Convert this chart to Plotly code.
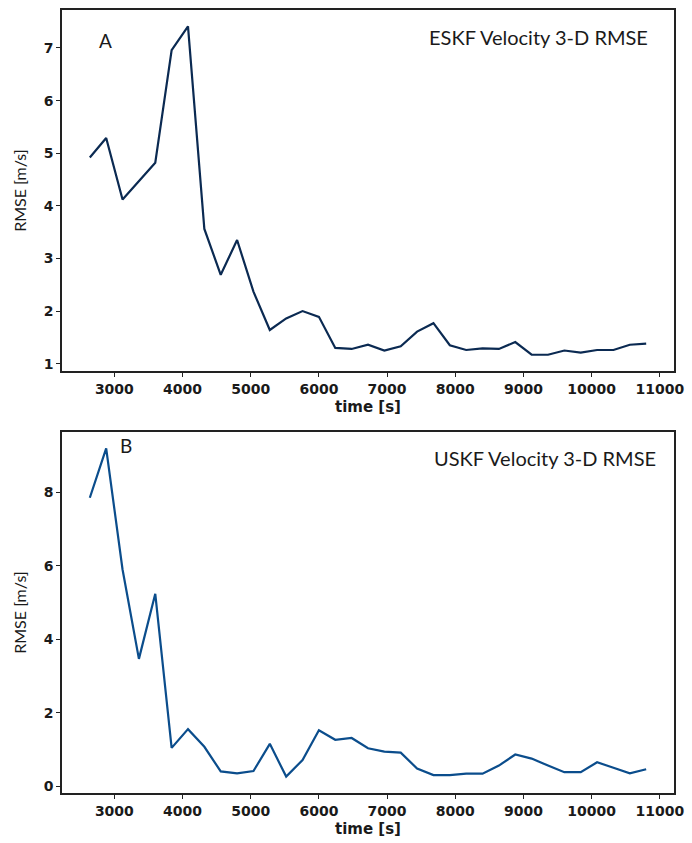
import plotly.graph_objects as go

# Time stamps of the RMSE evaluations [s]
time_s = [2640, 2880, 3120, 3360, 3600, 3840, 4080, 4320, 4560, 4800,
          5040, 5280, 5520, 5760, 6000, 6240, 6480, 6720, 6960, 7200,
          7440, 7680, 7920, 8160, 8400, 8640, 8880, 9120, 9360, 9600,
          9840, 10080, 10320, 10560, 10800]

# ESKF velocity 3-D RMSE [m/s]
eskf_rmse = [4.92, 5.29, 4.12, 4.47, 4.82, 6.96, 7.41, 3.56, 2.69, 3.35,
             2.37, 1.64, 1.86, 2.00, 1.89, 1.30, 1.28, 1.36, 1.25, 1.33,
             1.61, 1.77, 1.35, 1.26, 1.29, 1.28, 1.41, 1.17, 1.17, 1.25,
             1.21, 1.26, 1.26, 1.36, 1.38]

# USKF velocity 3-D RMSE [m/s]
uskf_rmse = [7.85, 9.19, 5.90, 3.47, 5.24, 1.05, 1.56, 1.08, 0.41, 0.36,
             0.42, 1.16, 0.27, 0.72, 1.53, 1.27, 1.32, 1.04, 0.95, 0.92,
             0.49, 0.31, 0.31, 0.35, 0.35, 0.57, 0.87, 0.76, 0.57, 0.39,
             0.39, 0.66, 0.51, 0.36, 0.47]

x_ticks = [3000, 4000, 5000, 6000, 7000, 8000, 9000, 10000, 11000]
x_ticktext = ["3000", "4000", "5000", "6000", "7000", "8000", "9000", "10000", "11000"]
eskf_yticks = [1, 2, 3, 4, 5, 6, 7]
uskf_yticks = [0, 2, 4, 6, 8]


def padded(values, frac=0.05):
    lo, hi = min(values), max(values)
    pad = (hi - lo) * frac
    return [lo - pad, hi + pad]


W, H = 692, 843
ML, MR, MT, MB = 62, 14, 8, 48

fig = go.Figure()
fig.add_trace(go.Scatter(x=time_s, y=eskf_rmse, mode="lines",
                         line=dict(color="#0b2a52", width=2.2),
                         xaxis="x", yaxis="y", showlegend=False))
fig.add_trace(go.Scatter(x=time_s, y=uskf_rmse, mode="lines",
                         line=dict(color="#0b4d8c", width=2.2),
                         xaxis="x2", yaxis="y2", showlegend=False))

tick_font = dict(family="DejaVu Sans", size=14, color="#1a1a1a", weight="bold")
title_font_x = dict(family="DejaVu Sans", size=15, color="#1a1a1a", weight="bold")
title_font_y = dict(family="Lato", size=16, color="#1a1a1a")

common_x = dict(showline=True, linecolor="#222", linewidth=1.6, mirror=True,
                ticks="outside", ticklen=4, tickwidth=1.4, tickcolor="#222",
                showgrid=False, zeroline=False, tickfont=tick_font,
                tickvals=x_ticks, ticktext=x_ticktext, range=padded(time_s))
common_y = dict(showline=True, linecolor="#222", linewidth=1.6, mirror=True,
                ticks="outside", ticklen=4, tickwidth=1.4, tickcolor="#222",
                showgrid=False, zeroline=False, tickfont=tick_font)

plot_h = H - MT - MB
top_lo = (795.5 - 371.5) / plot_h
bot_hi = (795.5 - 432.7) / plot_h

fig.update_layout(
    width=W, height=H,
    margin=dict(l=ML, r=MR, t=MT, b=MB),
    paper_bgcolor="white", plot_bgcolor="white",
    xaxis=dict(**common_x, anchor="y", domain=[0, 1],
               title=dict(text="time [s]", font=title_font_x, standoff=6)),
    yaxis=dict(**common_y, anchor="x", domain=[top_lo, 1.0],
               range=padded(eskf_rmse), tickvals=eskf_yticks,
               title=dict(text="RMSE [m/s]", font=title_font_y, standoff=13)),
    xaxis2=dict(**common_x, anchor="y2", domain=[0, 1],
                title=dict(text="time [s]", font=title_font_x, standoff=6)),
    yaxis2=dict(**common_y, anchor="x2", domain=[0, bot_hi],
                range=padded(uskf_rmse), tickvals=uskf_yticks,
                title=dict(text="RMSE [m/s]", font=title_font_y, standoff=13)),
)

panel_font = dict(family="Lato", size=19, color="#1a1a1a")
label_font = dict(family="Lato", size=20, color="#1a1a1a")
fig.add_annotation(text="A", xref="paper", yref="paper",
                   x=(106 - ML) / (W - ML - MR), y=(795.5 - 39) / plot_h,
                   showarrow=False, font=panel_font, xanchor="center", yanchor="middle")
fig.add_annotation(text="ESKF Velocity 3-D RMSE", xref="paper", yref="paper",
                   x=(654 - ML) / (W - ML - MR), y=(795.5 - 36) / plot_h,
                   showarrow=False, font=label_font, xanchor="right", yanchor="middle")
fig.add_annotation(text="B", xref="paper", yref="paper",
                   x=(126 - ML) / (W - ML - MR), y=(795.5 - 446.7) / plot_h,
                   showarrow=False, font=panel_font, xanchor="center", yanchor="middle")
fig.add_annotation(text="USKF Velocity 3-D RMSE", xref="paper", yref="paper",
                   x=(662 - ML) / (W - ML - MR), y=(795.5 - 459) / plot_h,
                   showarrow=False, font=label_font, xanchor="right", yanchor="middle")

fig.write_html("out.html")
